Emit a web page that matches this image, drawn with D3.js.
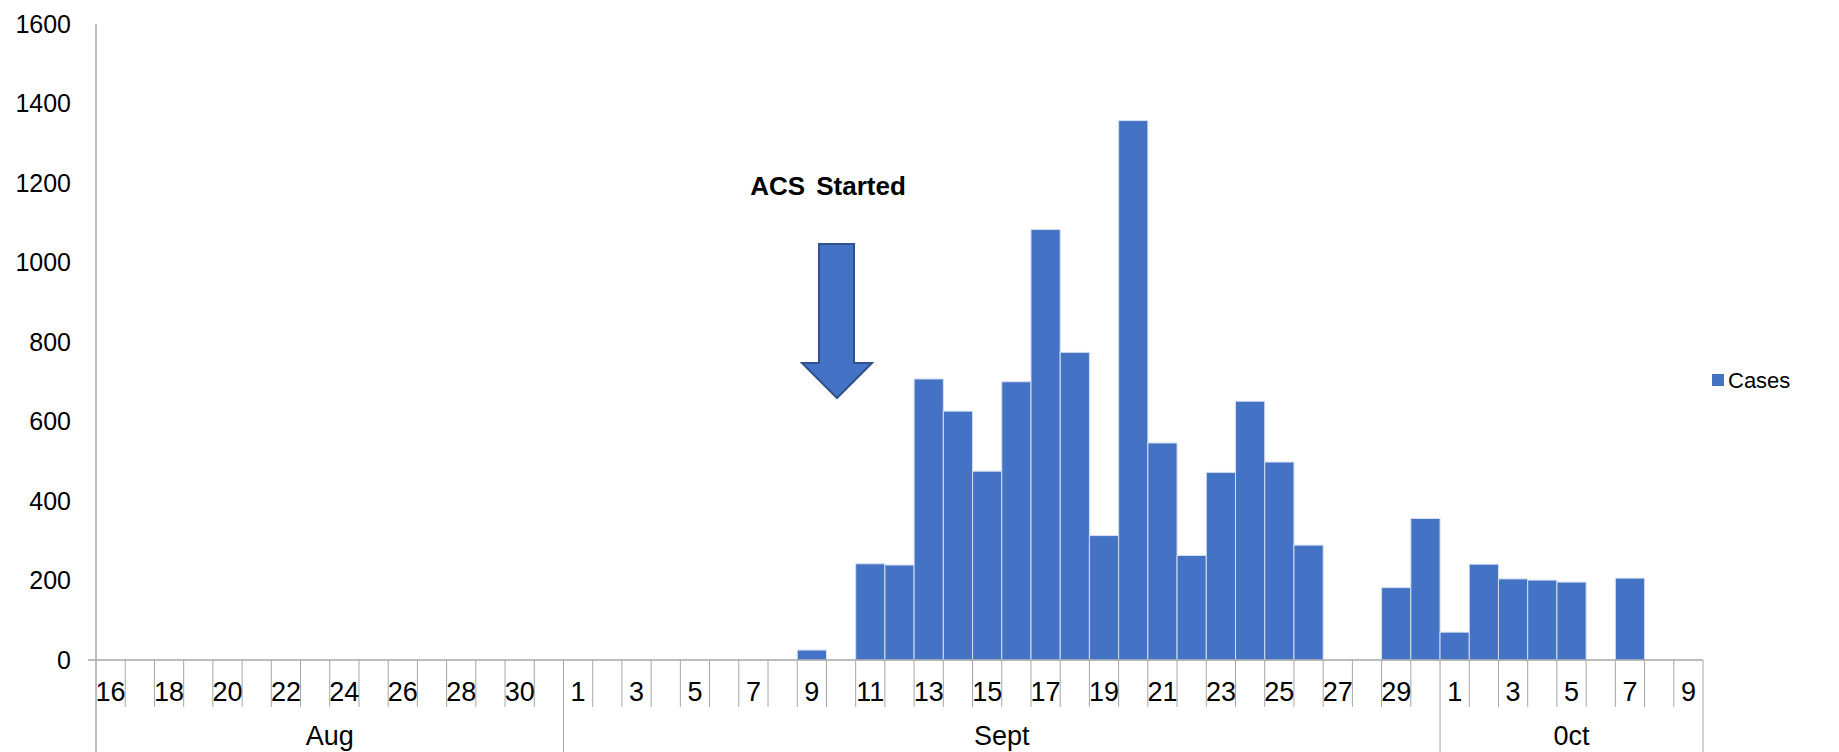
<!DOCTYPE html>
<html>
<head>
<meta charset="utf-8">
<script src="https://cdn.jsdelivr.net/npm/d3@7"></script>
<style>
  html, body { margin: 0; padding: 0; background: #fff; }
  svg { display: block; }
</style>
</head>
<body>
<svg id="chart" width="1839" height="752"></svg>
<script>
// ---------- DATA ----------
const months = ["Aug", "Sept", "0ct"];
const augDays = [16,17,18,19,20,21,22,23,24,25,26,27,28,29,30,31];
const septDays = [1,2,3,4,5,6,7,8,9,10,11,12,13,14,15,16,17,18,19,20,21,22,23,24,25,26,27,28,29,30];
const octDays = [1,2,3,4,5,6,7,8,9];
const augCases = [0,0,0,0,0,0,0,0,0,0,0,0,0,0,0,0];
const septCases = [0,0,0,0,0,0,0,0,25,0,242,239,707,626,475,700,1083,774,313,1357,546,263,472,651,498,289,0,0,182,356];
const octCases = [70,241,204,201,196,0,206,0,0];
const yTicks = [0,200,400,600,800,1000,1200,1400,1600];
const seriesName = "Cases";
const annotation = "ACS Started";

// ---------- BUILD ----------
(function () {
const monthDays = [augDays, septDays, octDays];
const monthCases = [augCases, septCases, octCases];
const rows = [];
monthDays.forEach((days, m) => days.forEach((d, i) => rows.push({ key: m + "-" + d, month: m, day: d, value: monthCases[m][i] })));

const svg = d3.select("#chart");
const pLeft = 96, pRight = 1703, pTop = 24, base = 660, pBottom = 752;
const axisColor = "#A6A6A6";
const barColor = "#4472C4";

const x = d3.scaleBand().domain(rows.map(r => r.key)).range([pLeft, pRight]).padding(0);
const y = d3.scaleLinear().domain([0, 1600]).range([base, pTop]);

// bars
svg.append("g").selectAll("rect").data(rows.filter(r => r.value > 0)).join("rect")
  .attr("x", r => x(r.key))
  .attr("y", r => y(r.value))
  .attr("width", x.bandwidth())
  .attr("height", r => y(0) - y(r.value))
  .attr("fill", barColor)
  .attr("stroke", "#D5DEF2")
  .attr("stroke-width", 1);

// y axis
const yAxis = svg.append("g").attr("transform", `translate(${pLeft},0)`)
  .call(d3.axisLeft(y).tickValues(yTicks).tickSize(0).tickPadding(25).tickFormat(d3.format("d")));
yAxis.select(".domain").remove();
yAxis.selectAll("text").attr("font-family", "Liberation Sans, Arial, sans-serif").attr("font-size", 25).attr("fill", "#000");
svg.append("line").attr("x1", pLeft).attr("x2", pLeft).attr("y1", pTop).attr("y2", pBottom)
  .attr("stroke", axisColor).attr("stroke-width", 1.5);

// x axis baseline
svg.append("line").attr("x1", pLeft - 8).attr("x2", pRight).attr("y1", base).attr("y2", base)
  .attr("stroke", axisColor).attr("stroke-width", 1.5);

// category separators
const boundaries = rows.map((r, i) => ({ i, x: x(r.key) + x.bandwidth() }));
const monthStart = new Set();
let acc = 0;
monthDays.forEach(d => { acc += d.length; monthStart.add(acc); });
svg.append("g").selectAll("line").data(boundaries).join("line")
  .attr("x1", b => b.x).attr("x2", b => b.x)
  .attr("y1", base)
  .attr("y2", b => monthStart.has(b.i + 1) ? pBottom : base + 47)
  .attr("stroke", axisColor).attr("stroke-width", 1);

// day labels (every other)
svg.append("g").selectAll("text").data(rows.filter((r, i) => i % 2 === 0)).join("text")
  .attr("x", r => x(r.key) + x.bandwidth() / 2)
  .attr("y", 701)
  .attr("text-anchor", "middle")
  .attr("font-family", "Liberation Sans Narrow, Arial Narrow, sans-serif")
  .attr("font-size", 27)
  .attr("fill", "#000")
  .text(r => r.day);

// month labels
let start = 0;
const monthSpans = monthDays.map((d, m) => { const s = start; start += d.length; return { m, s, e: start - 1 }; });
svg.append("g").selectAll("text").data(monthSpans).join("text")
  .attr("x", s => (x(rows[s.s].key) + x(rows[s.e].key) + x.bandwidth()) / 2)
  .attr("y", 745)
  .attr("text-anchor", "middle")
  .attr("font-family", "Liberation Sans Narrow, Arial Narrow, sans-serif")
  .attr("font-size", 27)
  .attr("fill", "#000")
  .text(s => months[s.m]);

// annotation arrow
const ax0 = 819, ax1 = 854, ah0 = 802, ah1 = 872, tipX = 837;
const arrow = d3.path();
arrow.moveTo(ax0, 244); arrow.lineTo(ax1, 244); arrow.lineTo(ax1, 363); arrow.lineTo(ah1, 363);
arrow.lineTo(tipX, 398); arrow.lineTo(ah0, 363); arrow.lineTo(ax0, 363); arrow.closePath();
svg.append("path").attr("d", arrow.toString()).attr("fill", barColor).attr("stroke", "#2F528F").attr("stroke-width", 2);

svg.append("text").attr("x", 828).attr("y", 195).attr("text-anchor", "middle")
  .attr("font-family", "Liberation Sans, Arial, sans-serif").attr("font-weight", "bold")
  .attr("font-size", 26).attr("fill", "#000").attr("word-spacing", 4).text(annotation);

// legend
const lg = svg.append("g").attr("transform", "translate(1712,374)");
lg.append("rect").attr("width", 12).attr("height", 12).attr("fill", barColor);
lg.append("text").attr("x", 16).attr("y", 14).attr("font-family", "Liberation Sans, Arial, sans-serif")
  .attr("font-size", 22).attr("fill", "#000").text(seriesName);
})();
</script>
</body>
</html>
